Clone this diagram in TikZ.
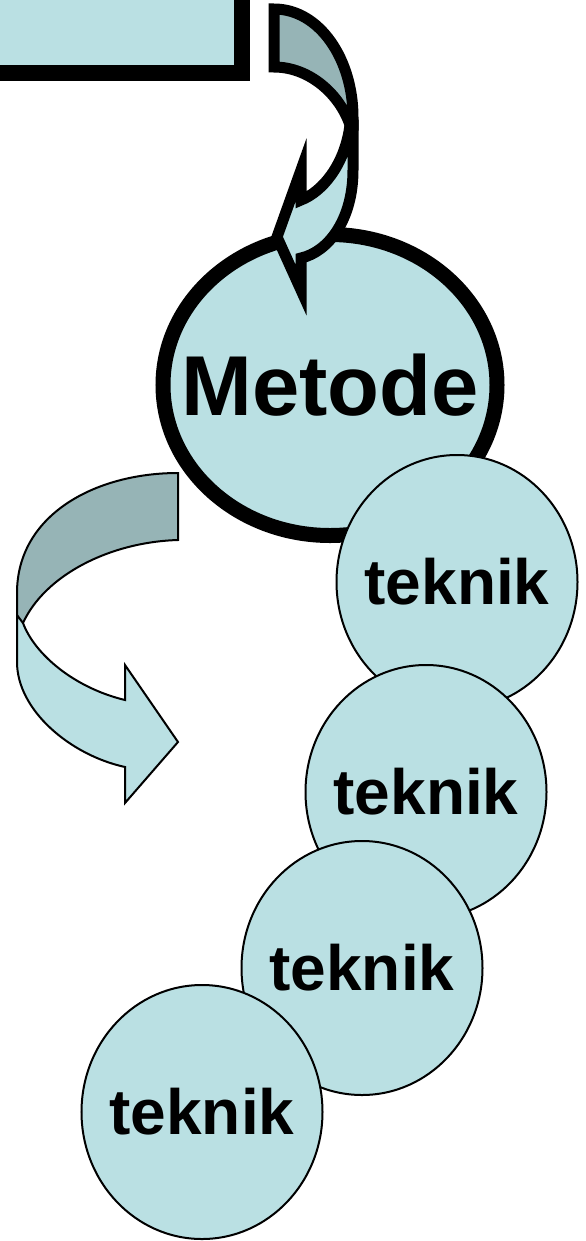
\documentclass[tikz,border=0pt]{standalone}
\usepackage{fontspec}
\setmainfont{Liberation Sans}
\usetikzlibrary{shapes.geometric}
\definecolor{bubblefill}{RGB}{186,224,227}
\definecolor{ribbonback}{RGB}{150,180,182}
\newcommand{\bubbletext}[1]{\makebox[0pt][c]{#1}}

\begin{document}
\begin{tikzpicture}[x=1bp, y=-1bp,
  bubble/.style={ellipse, draw=black, fill=bubblefill, inner sep=0pt,
    line width=2bp, minimum width=241bp, minimum height=254bp,
    font=\bfseries\fontsize{64bp}{70bp}\selectfont},
  heavyline/.style={draw=black, line width=11bp},
  thinline/.style={draw=black, line width=2bp}]
\useasboundingbox (0,0) rectangle (586,1241);

% Draw the top box
\draw[fill=bubblefill, line width=16bp] (-40,-40) rectangle (242,73);

% Draw the main circle
\node[bubble, line width=15bp, minimum width=334bp, minimum height=301bp,
  font=\bfseries\fontsize{85bp}{90bp}\selectfont] (metode) at (330,385) {\bubbletext{Metode}};

% Draw the curved arrow from the box
\draw[heavyline, fill=ribbonback]
    (274,9) .. controls (320,9) and (353,60) .. (353,117) -- (353,125)
    -- (350,125) .. controls (340,95) and (310,67) .. (274,67) -- cycle;
\draw[heavyline, fill=bubblefill]
    (353,125) -- (353,170) .. controls (353,220) and (328,252) .. (301,258)
    -- (301,290) -- (277,237) -- (301,170) -- (301,200)
    .. controls (322,192) and (345,165) .. (350,125) -- cycle;

% Draw the technique circles
\node[bubble] (teknikA) at (457,582) {\bubbletext{teknik}};
\node[bubble] (teknikB) at (426,792) {\bubbletext{teknik}};
\node[bubble] (teknikC) at (362,968) {\bubbletext{teknik}};
\node[bubble] (teknikD) at (202,1112) {\bubbletext{teknik}};

% Draw the curved arrow on the left
\draw[thinline, fill=ribbonback]
    (178,473) .. controls (95,473) and (17,515) .. (17,593) -- (17,620)
    -- (23,623) .. controls (45,575) and (110,542) .. (178,540) -- cycle;
\draw[thinline, fill=bubblefill]
    (17,615) -- (17,662) .. controls (17,710) and (70,755) .. (125,767)
    -- (125,803) -- (178,742) -- (125,665) -- (125,700)
    .. controls (75,688) and (35,655) .. (23,623) -- cycle;
\end{tikzpicture}
\end{document}
